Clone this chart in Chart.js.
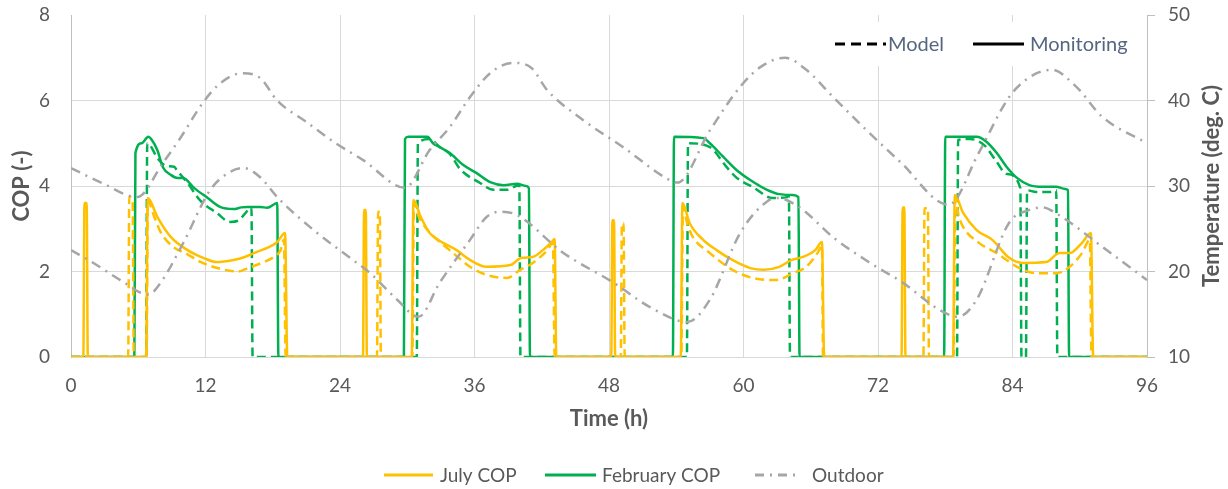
<!DOCTYPE html>
<html>
<head>
<meta charset="utf-8">
<script src="https://cdn.jsdelivr.net/npm/chart.js@4.4.1/dist/chart.umd.min.js"></script>
<style>
  html, body { margin: 0; padding: 0; background: #ffffff; }
  #wrap { width: 1228px; height: 489px; }
</style>
</head>
<body>
<div id="wrap"><canvas id="c" width="1228" height="489"></canvas></div>
<script>
// Axis tick values
const hourTicks = [0, 12, 24, 36, 48, 60, 72, 84, 96];
const copTicks = [0, 2, 4, 6, 8];
const tempTicks = [10, 20, 30, 40, 50];

// July COP, monitored
const julyMonHours = [0, 1.1, 1.2, 1.4, 1.5, 6.7, 6.85, 7.7, 8.9, 10.4, 11.8, 13.0, 14.5, 15.5, 16.6, 17.5, 18.4, 19.1, 19.3,
  26.05, 26.15, 26.3, 26.4, 30.4, 30.55, 31.2, 32.0, 33.2, 34.4, 35.6, 37.1, 39.2, 40.2, 41.2, 42.1, 42.9, 43.15, 43.3,
  48.2, 48.3, 48.45, 48.55, 54.4, 54.55, 55.2, 56.4, 57.6, 59.0, 60.6, 61.8, 63.2, 64.3, 65.3, 66.4, 67.0, 67.2,
  74.1, 74.2, 74.35, 74.45, 78.7, 78.85, 79.6, 80.8, 82.2, 83.7, 84.9, 87.0, 88.2, 89.1, 90.2, 91.0, 91.2, 96];
const julyMonCop = [0, 0, 3.6, 3.6, 0, 0, 3.72, 3.28, 2.81, 2.5, 2.32, 2.22, 2.27, 2.34, 2.46, 2.55, 2.69, 2.9, 0,
  0, 3.44, 3.44, 0, 0, 3.67, 3.28, 2.9, 2.67, 2.5, 2.27, 2.11, 2.15, 2.32, 2.34, 2.5, 2.69, 2.76, 0,
  0, 3.2, 3.2, 0, 0, 3.6, 3.13, 2.74, 2.5, 2.27, 2.08, 2.04, 2.11, 2.27, 2.34, 2.5, 2.69, 0,
  0, 3.5, 3.5, 0, 0, 3.79, 3.37, 2.97, 2.74, 2.32, 2.2, 2.22, 2.43, 2.43, 2.67, 2.9, 0, 0];

// July COP, model
const julyModHours = [0, 5.1, 5.2, 5.5, 5.6, 6.75, 6.85, 7.4, 8.0, 9.0, 10.4, 11.6, 12.8, 14.9, 15.8, 17.0, 18.1, 18.7, 19.0, 19.15,
  27.3, 27.4, 27.55, 27.65, 30.45, 30.6, 31.0, 31.8, 32.7, 34.1, 35.6, 37.1, 38.9, 40.1, 41.2, 42.5, 43.0, 43.15,
  49.05, 49.15, 49.3, 49.4, 54.45, 54.6, 55.0, 55.5, 57.0, 59.0, 60.8, 62.9, 64.4, 65.6, 66.6, 67.0, 67.1,
  76.05, 76.15, 76.45, 76.55, 78.75, 78.9, 79.2, 79.6, 81.0, 82.6, 84.4, 86.1, 87.9, 89.1, 90.2, 90.9, 91.05, 96];
const julyModCop = [0, 0, 3.74, 3.66, 0, 0, 3.65, 3.3, 2.92, 2.6, 2.4, 2.22, 2.1, 2.0, 2.08, 2.2, 2.34, 2.5, 2.75, 0,
  0, 3.4, 3.4, 0, 0, 3.6, 3.3, 2.97, 2.74, 2.43, 2.11, 1.92, 1.85, 2.04, 2.2, 2.5, 2.67, 0,
  0, 3.13, 3.13, 0, 0, 3.5, 3.1, 2.8, 2.43, 2.04, 1.85, 1.8, 1.96, 2.11, 2.43, 2.6, 0,
  0, 3.48, 3.48, 0, 0, 3.7, 3.3, 3.04, 2.67, 2.43, 2.11, 1.96, 1.96, 2.11, 2.43, 2.74, 0, 0];

// February COP, monitored
const febMonHours = [0, 5.65, 5.75, 6.3, 6.9, 7.2, 7.7, 8.2, 8.9, 9.5, 10.0, 11.0, 12.2, 13.3, 14.5, 15.2, 15.7, 16.9, 17.5, 18.4, 18.5,
  29.7, 29.8, 30.1, 31.8, 32.3, 32.9, 33.8, 35.0, 36.2, 37.4, 38.6, 39.8, 40.6, 40.85, 40.95,
  53.7, 53.8, 56.4, 57.0, 58.2, 59.4, 60.6, 62.1, 63.2, 64.4, 64.9, 65.0,
  77.9, 78.0, 80.8, 81.7, 82.6, 83.5, 84.4, 85.5, 86.7, 87.9, 88.7, 88.95, 89.05, 96];
const febMonCop = [0, 0, 4.77, 5.0, 5.15, 5.08, 4.84, 4.44, 4.26, 4.19, 4.19, 3.95, 3.72, 3.51, 3.46, 3.5, 3.51, 3.51, 3.49, 3.6, 0,
  0, 5.1, 5.15, 5.15, 5.0, 4.91, 4.77, 4.49, 4.3, 4.09, 4.02, 4.05, 4.0, 3.95, 0,
  0, 5.15, 5.12, 5.0, 4.68, 4.37, 4.14, 3.91, 3.81, 3.79, 3.74, 0,
  0, 5.15, 5.15, 5.03, 4.77, 4.44, 4.19, 4.02, 3.98, 3.98, 3.93, 3.9, 0, 0];

// February COP, model
const febModHours = [0, 6.7, 6.8, 7.8, 8.5, 9.2, 9.5, 10.4, 11.5, 13.0, 14.2, 15.0, 15.5, 16.1, 16.2,
  30.85, 30.95, 32.0, 32.9, 33.8, 34.7, 36.5, 37.7, 38.9, 39.7, 40.0, 40.1,
  54.95, 55.05, 57.0, 58.5, 59.4, 60.8, 62.6, 63.9, 64.05, 64.15,
  79.05, 79.15, 80.2, 81.5, 82.5, 83.5, 84.7, 84.8, 85.2, 85.3, 86.1, 87.3, 87.9, 88.0, 96];
const febModCop = [0, 0, 5.0, 4.62, 4.47, 4.45, 4.35, 4.07, 3.67, 3.37, 3.16, 3.2, 3.35, 3.5, 0,
  0, 5.0, 5.1, 4.91, 4.75, 4.4, 4.07, 3.91, 3.91, 4.0, 4.02, 0,
  0, 5.0, 4.91, 4.44, 4.19, 3.98, 3.72, 3.74, 3.75, 0,
  0, 5.08, 5.1, 4.95, 4.6, 4.28, 3.95, 0, 0, 3.9, 3.86, 3.86, 3.9, 0, 0];

// Outdoor air temperature (deg. C), July days and February days
const julyOutHours = [0, 3, 5.9, 8.2, 9.8, 11.8, 13.3, 15.3, 16.9, 18.4, 21.1, 23.5, 26.1, 29.8, 32.0, 33.8, 35.6, 37.4, 39.4,
  41.0, 42.5, 45.7, 49.2, 53.4, 54.1, 57.0, 59.7, 61.5, 63.7, 65.6, 68.0, 71.0, 74.0, 78.3, 81.0, 83.7, 85.5, 87.5, 89.7, 92.0, 96];
const julyOutTemp = [32.1, 30.2, 28.7, 32.7, 35.7, 39.8, 42.0, 43.2, 42.6, 40.0, 37.4, 35.1, 33.0, 29.8, 34.2, 36.9, 40.4, 43.2, 44.4,
  43.9, 41.2, 37.7, 34.6, 30.7, 30.4, 36.5, 41.6, 43.9, 45.0, 43.6, 40.4, 36.5, 32.8, 27.8, 33.9, 40.4, 42.7, 43.6, 41.6, 38.1, 35.0];
const febOutHours = [0, 2, 4.4, 6.9, 8.0, 10.0, 12.4, 14.0, 15.4, 16.9, 18.4, 21.6, 25.2, 26.7, 29.1, 31.0, 32.9, 35.6, 37.1, 38.3,
  39.8, 43.9, 48.4, 51.7, 55.0, 57.0, 59.7, 62.1, 63.0, 65.0, 68.0, 71.3, 74.2, 77.5, 79.1, 80.8, 83.7, 85.5, 86.7, 87.9, 92.0, 96];
const febOutTemp = [22.5, 21.0, 19.0, 17.3, 18.7, 23.3, 29.5, 31.5, 32.1, 31.0, 28.7, 24.9, 21.3, 19.8, 16.7, 14.7, 18.7, 23.7, 26.4, 27.0,
  26.6, 22.2, 18.7, 15.8, 14.1, 16.7, 24.5, 28.2, 28.6, 27.5, 24.0, 21.0, 18.7, 15.5, 14.7, 16.7, 25.7, 27.2, 27.5, 26.8, 22.9, 19.0];

const seriesNames = ['July COP', 'February COP', 'Outdoor'];
const styleNames = ['Model', 'Monitoring'];

const YELLOW = '#FFC000';
const GREEN = '#00B050';
const GREY = '#A6A6A6';
const TEXT = '#595959';
const MODEL_DASH = [9, 5];
const OUT_DASH = [10, 6, 2, 6];

function pts(xs, ys) { return xs.map((x, i) => ({ x: x, y: ys[i] })); }

function lineSet(label, xs, ys, color, dash, axis) {
  return {
    label: label,
    data: pts(xs, ys),
    yAxisID: axis,
    borderColor: color,
    backgroundColor: color,
    borderWidth: 2.5,
    borderDash: dash,
    borderJoinStyle: 'round',
    pointRadius: 0,
    pointHoverRadius: 0,
    fill: false,
    cubicInterpolationMode: 'monotone'
  };
}

// Legends, axis titles and the white panel behind the style key
const decor = {
  id: 'decor',
  beforeDatasetsDraw(chart) {
    const ctx = chart.ctx;
    ctx.save();
    ctx.fillStyle = '#ffffff';
    ctx.fillRect(828, 22, 316, 44);
    ctx.restore();
  },
  afterDraw(chart) {
    const ctx = chart.ctx;
    const a = chart.chartArea;
    const midY = (a.top + a.bottom) / 2;
    ctx.save();
    ctx.fillStyle = TEXT;
    ctx.textBaseline = 'middle';
    ctx.textAlign = 'center';
    ctx.font = 'bold 22px Lato';
    ctx.save(); ctx.translate(22, midY); ctx.rotate(-Math.PI / 2); ctx.fillText('COP (-)', 0, 0); ctx.restore();
    ctx.save(); ctx.translate(1212, midY); ctx.rotate(-Math.PI / 2); ctx.fillText('Temperature (deg. C)', 0, 0); ctx.restore();
    ctx.fillText('Time (h)', (a.left + a.right) / 2, 419);

    // style key (top right)
    ctx.textAlign = 'left';
    ctx.font = '20px Lato';
    ctx.lineWidth = 3;
    ctx.strokeStyle = '#000000';
    ctx.setLineDash([10, 6]);
    ctx.beginPath(); ctx.moveTo(835, 44); ctx.lineTo(886, 44); ctx.stroke();
    ctx.setLineDash([]);
    ctx.beginPath(); ctx.moveTo(973, 44); ctx.lineTo(1024, 44); ctx.stroke();
    ctx.fillStyle = '#55667f';
    ctx.fillText(styleNames[0], 888, 45);
    ctx.fillText(styleNames[1], 1030, 45);

    // series key (bottom)
    const ly = 475;
    const keys = [
      { x0: 384, x1: 433, tx: 440, color: YELLOW, dash: [] },
      { x0: 545, x1: 596, tx: 602, color: GREEN, dash: [] },
      { x0: 755, x1: 801, tx: 812, color: GREY, dash: [9, 6, 2, 6] }
    ];
    ctx.font = '19px Lato';
    keys.forEach((k, i) => {
      ctx.strokeStyle = k.color;
      ctx.lineWidth = 3;
      ctx.setLineDash(k.dash);
      ctx.beginPath(); ctx.moveTo(k.x0, ly); ctx.lineTo(k.x1, ly); ctx.stroke();
      ctx.setLineDash([]);
      ctx.fillStyle = TEXT;
      ctx.fillText(seriesNames[i], k.tx, ly + 1);
    });
    ctx.restore();
  }
};

function fixTicks(values) {
  return function (scale) { scale.ticks = values.map(v => ({ value: v })); };
}

new Chart(document.getElementById('c'), {
  type: 'line',
  data: {
    datasets: [
      lineSet('Outdoor', julyOutHours, julyOutTemp, GREY, OUT_DASH, 'yT'),
      lineSet('Outdoor (February)', febOutHours, febOutTemp, GREY, OUT_DASH, 'yT'),
      lineSet('July COP (model)', julyModHours, julyModCop, YELLOW, MODEL_DASH, 'y'),
      lineSet('July COP', julyMonHours, julyMonCop, YELLOW, [], 'y'),
      lineSet('February COP (model)', febModHours, febModCop, GREEN, MODEL_DASH, 'y'),
      lineSet('February COP', febMonHours, febMonCop, GREEN, [], 'y')
    ]
  },
  options: {
    responsive: false,
    animation: false,
    devicePixelRatio: 1,
    layout: { padding: { top: 15, left: 0, right: 0, bottom: 0 } },
    plugins: { legend: { display: false }, tooltip: { enabled: false } },
    scales: {
      x: {
        type: 'linear',
        min: 0, max: 96,
        afterBuildTicks: fixTicks(hourTicks),
        afterFit(scale) { scale.height = 132; scale.paddingLeft = 0; scale.paddingRight = 0; },
        grid: { color: '#D9D9D9', lineWidth: 1, drawTicks: false },
        border: { display: true, color: '#D9D9D9' },
        ticks: { padding: 17, color: TEXT, font: { family: 'Lato', size: 19 } }
      },
      y: {
        position: 'left',
        min: 0, max: 8,
        afterBuildTicks: fixTicks(copTicks),
        afterFit(scale) { scale.width = 71; scale.paddingTop = 0; scale.paddingBottom = 0; },
        grid: {
          color: (c) => (c.tick && c.tick.value === 8) ? 'rgba(0,0,0,0)' : '#D9D9D9',
          lineWidth: 1, drawTicks: false
        },
        border: { display: true, color: '#BFBFBF' },
        ticks: { padding: 21, color: TEXT, font: { family: 'Lato', size: 19 } }
      },
      yT: {
        position: 'right',
        min: 10, max: 50,
        afterBuildTicks: fixTicks(tempTicks),
        afterFit(scale) { scale.width = 81; scale.paddingTop = 0; scale.paddingBottom = 0; },
        grid: { drawOnChartArea: false, drawTicks: true, tickLength: 8, color: '#BFBFBF' },
        border: { display: true, color: '#BFBFBF' },
        ticks: { padding: 13, color: TEXT, font: { family: 'Lato', size: 19 } }
      }
    }
  },
  plugins: [decor]
});
</script>
</body>
</html>
